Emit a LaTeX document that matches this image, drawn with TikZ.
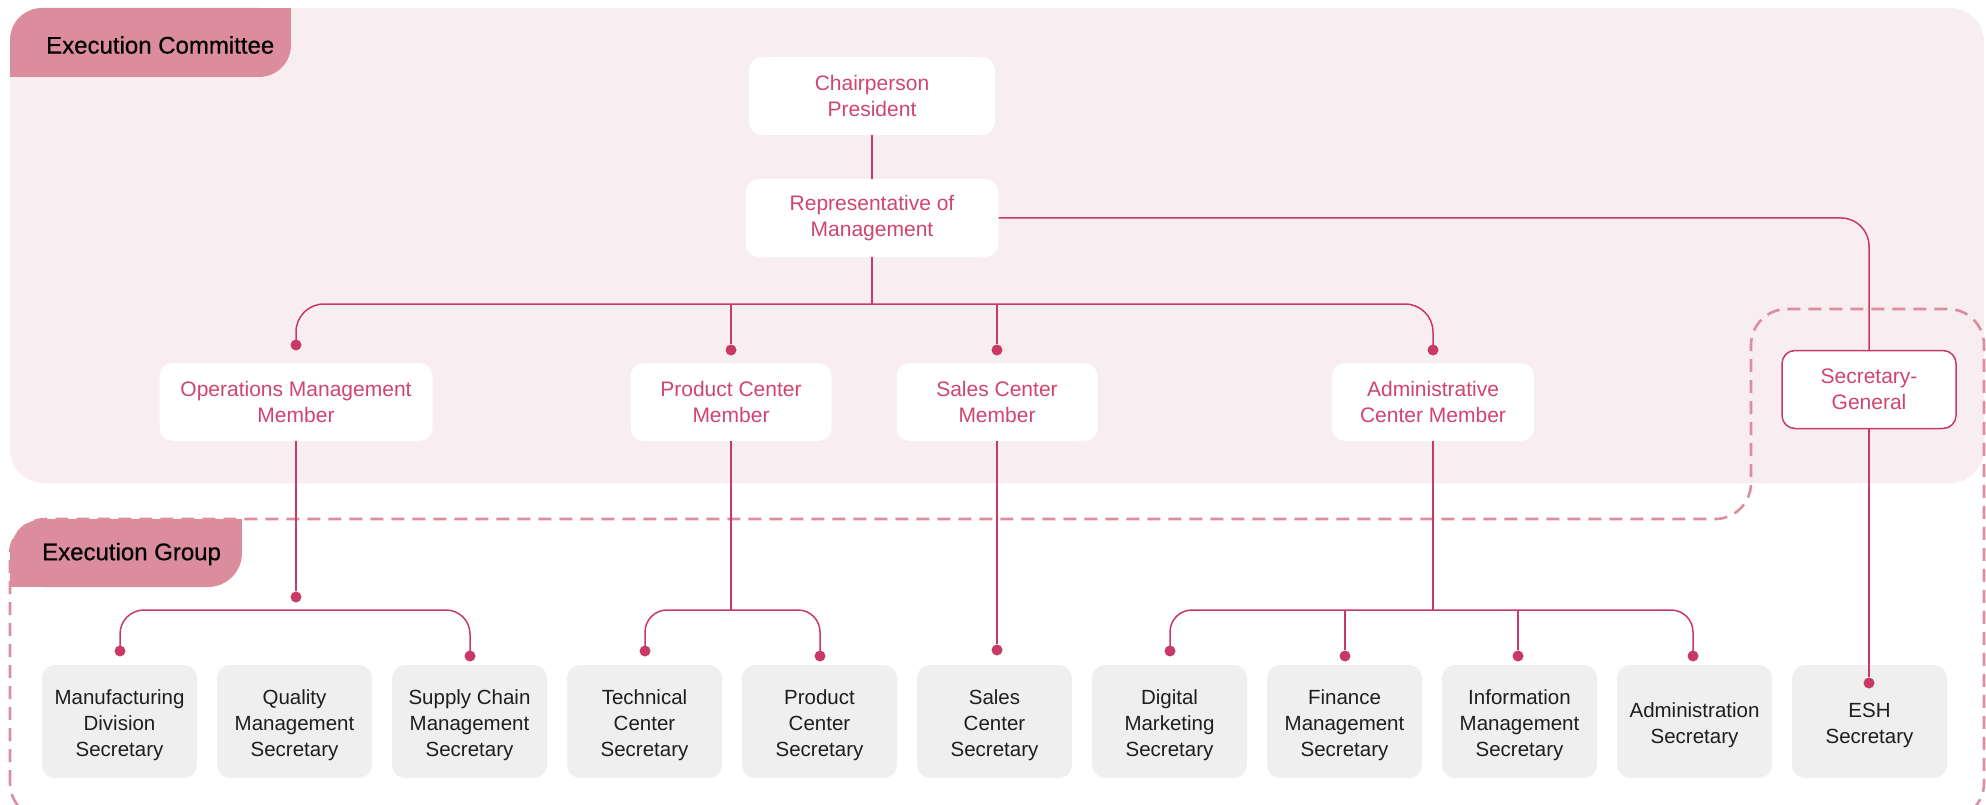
\documentclass[tikz,border=0pt]{standalone}
\usepackage{fontspec}
\setmainfont{Liberation Sans}
\newfontfamily\headfont[FakeBold=0.5]{Liberation Sans}
\definecolor{rose}{HTML}{C93966}
\definecolor{rosetext}{HTML}{D0456F}
\definecolor{blush}{HTML}{F8EDF0}
\definecolor{tabpink}{HTML}{DB8C9D}
\definecolor{dashpink}{HTML}{DC8EA0}
\definecolor{paper}{HTML}{EFEFEF}
\definecolor{ink}{HTML}{1E1E1E}
\newcommand{\capstrut}{\rule{0pt}{23pt}}
\begin{document}
\begin{tikzpicture}[x=1pt, y=-1pt,
		member/.style={rectangle, rounded corners=13pt, fill=white, text=rosetext, align=center,
			font=\fontsize{21}{25.5}\selectfont, minimum height=78pt, inner sep=0pt},
		secretary/.style={rectangle, rounded corners=13pt, fill=paper, text=ink, align=center,
			font=\fontsize{20.5}{26}\selectfont, minimum width=155pt, minimum height=113pt, inner sep=0pt},
		title/.style={anchor=west, inner sep=0pt, text=black, font=\headfont\fontsize{24}{28}\selectfont},
		link/.style={draw=rose, line width=1.5pt},
		dot/.style={circle, fill=rose, inner sep=0pt, minimum size=11pt},
		groupedge/.style={draw=dashpink, line width=2.6pt, dash pattern=on 13pt off 8pt}
		]
	\useasboundingbox (0,0) rectangle (1986,805);

	\fill[blush, rounded corners=34pt] (10,8) rectangle (1984,483);
	\fill[tabpink, rounded corners=32pt] (10,8) rectangle (291,77);
	\fill[tabpink] (150,8) rectangle (291,40);
	\fill[tabpink] (10,40) rectangle (150,77);
	\node[title] (ec) at (46,45) {Execution Committee};

	\fill[tabpink, rounded corners=34pt] (10,519) rectangle (242,587);
	\fill[tabpink] (120,519) rectangle (242,550);
	\fill[tabpink] (10,550) rectangle (120,587);
	\draw[groupedge, rounded corners=36pt] (10,819) -- (10,519) -- (1751,519) -- (1751,309)
		-- (1984,309) -- (1984,819) -- cycle;
	\node[title] (eg) at (42,554) {Execution Group};

	\node[member, minimum width=246pt] (chair) at (872,96) {Chairperson\\President};
	\node[member, minimum width=253pt] (rep) at (872,218) {Representative of\\Management};
	\node[member, minimum width=273pt] (ops) at (296,402) {Operations Management\\Member};
	\node[member, minimum width=201pt] (prod) at (731,402) {Product Center\\Member};
	\node[member, minimum width=201pt] (sales) at (997,402) {Sales Center\\Member};
	\node[member, minimum width=202pt] (admin) at (1433,402) {Administrative\\Center Member};
	\node[member, draw=rose, line width=1.5pt, minimum width=174pt, minimum height=78pt] (secg) at (1869,389.5) {Secretary-\\General};

	\node[secretary] (mfg) at (119.5,721.5) {\capstrut Manufacturing\\Division\\Secretary};
	\node[secretary] (qual) at (294.5,721.5) {\capstrut Quality\\Management\\Secretary};
	\node[secretary] (supply) at (469.5,721.5) {\capstrut Supply Chain\\Management\\Secretary};
	\node[secretary] (tech) at (644.5,721.5) {\capstrut Technical\\Center\\Secretary};
	\node[secretary] (prodsec) at (819.5,721.5) {\capstrut Product\\Center\\Secretary};
	\node[secretary] (salessec) at (994.5,721.5) {\capstrut Sales\\Center\\Secretary};
	\node[secretary] (digital) at (1169.5,721.5) {\capstrut Digital\\Marketing\\Secretary};
	\node[secretary] (finance) at (1344.5,721.5) {\capstrut Finance\\Management\\Secretary};
	\node[secretary] (info) at (1519.5,721.5) {\capstrut Information\\Management\\Secretary};
	\node[secretary] (adminsec) at (1694.5,721.5) {\capstrut Administration\\Secretary};
	\node[secretary] (esh) at (1869.5,721.5) {\capstrut ESH\\Secretary};

	\node[dot] (dops) at (296,345) {};
	\node[dot] (dprod) at (731,350) {};
	\node[dot] (dsales) at (997,350) {};
	\node[dot] (dadmin) at (1433,350) {};
	\node[dot] (dopsb) at (296,597) {};
	\node[dot] (dmfg) at (120,651) {};
	\node[dot] (dsupply) at (470,656) {};
	\node[dot] (dtech) at (645,651) {};
	\node[dot] (dprodsec) at (820,656) {};
	\node[dot] (dsalessec) at (997,650) {};
	\node[dot] (ddigital) at (1170,651) {};
	\node[dot] (dfinance) at (1345,656) {};
	\node[dot] (dinfo) at (1518,656) {};
	\node[dot] (dadminsec) at (1693,656) {};
	\node[dot] (desh) at (1869,683) {};

	\coordinate (top) at (872,304);
	\coordinate (opsbus) at (296,610);
	\coordinate (prodbus) at (731,610);
	\coordinate (adminbus) at (1433,610);

	\draw[link] (chair) -- (rep);
	\draw[link] (rep) -- (top);
	\draw[link, rounded corners=28pt] (dops.center) |- (top) -| (dadmin.center);
	\draw[link] (dprod |- top) -- (dprod);
	\draw[link] (dsales |- top) -- (dsales);
	\draw[link, rounded corners=28pt] (rep.east) -| (secg);
	\draw[link] (secg) -- (desh);

	\draw[link] (ops) -- (dopsb);
	\draw[link, rounded corners=24pt] (dmfg.center) |- (opsbus) -| (dsupply.center);
	\draw[link] (prod) -- (prodbus);
	\draw[link, rounded corners=22pt] (dtech.center) |- (prodbus) -| (dprodsec.center);
	\draw[link] (sales) -- (dsalessec);
	\draw[link] (admin) -- (adminbus);
	\draw[link, rounded corners=22pt] (ddigital.center) |- (adminbus) -| (dadminsec.center);
	\draw[link] (dfinance |- adminbus) -- (dfinance);
	\draw[link] (dinfo |- adminbus) -- (dinfo);
\end{tikzpicture}
\end{document}
